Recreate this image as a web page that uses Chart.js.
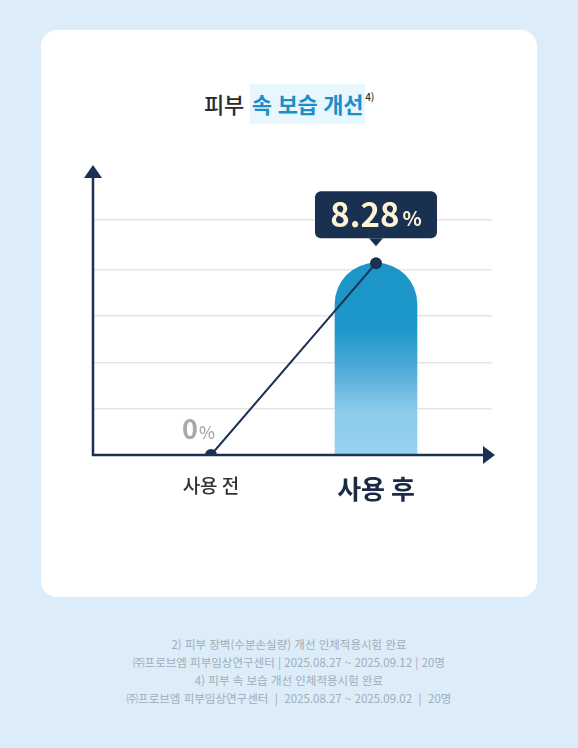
<!DOCTYPE html>
<html lang="ko">
<head>
<meta charset="utf-8">
<script src="https://cdn.jsdelivr.net/npm/chart.js@4/dist/chart.umd.min.js"></script>
<style>
  html, body { margin: 0; padding: 0; }
  body {
    width: 578px; height: 748px; background: #dcedf9; position: relative;
    font-family: "Noto Sans CJK KR", "Noto Sans", sans-serif; overflow: hidden;
  }
  .card {
    position: absolute; left: 41px; top: 30px; width: 496px; height: 567px;
    background: #fff; border-radius: 16px;
  }
  .title {
    position: absolute; left: 0; width: 578px; top: 87px; text-align: center;
    font-size: 22px; color: #2a2a2a; font-weight: 500; letter-spacing: -0.3px;
  }
  .title .hl {
    color: #1a8fc9; font-weight: 700; background: #e8f6fd; padding: 3px 2px 5px 2px;
  }
  .title sup { font-size: 10px; color: #333; font-weight: 500; vertical-align: 12px; }
  .wrap { position: absolute; left: 41px; top: 140px; width: 496px; height: 380px; }
  .notes {
    position: absolute; left: 0; width: 578px; top: 635px; text-align: center;
    font-size: 11.5px; line-height: 18px; color: #a0acb8;
  }
</style>
</head>
<body>
<div class="card"></div>
<div class="title">피부 <span class="hl">속 보습 개선</span><sup>4)</sup></div>
<div class="wrap"><canvas id="chart"></canvas></div>
<div class="notes">
  2) 피부 장벽(수분손실량) 개선 인체적용시험 완료<br>
  ㈜프로브엠 피부임상연구센터 | 2025.08.27 ~ 2025.09.12 | 20명<br>
  4) 피부 속 보습 개선 인체적용시험 완료<br>
  ㈜프로브엠 피부임상연구센터 &nbsp;| &nbsp;2025.08.27 ~ 2025.09.02 &nbsp;| &nbsp;20명
</div>
<script>
const categories = ['사용 전', '사용 후']
const values = [0, 8.28]
const gridTicks = [0, 2, 4, 6, 8, 10.15]
const valueLabels = ['0', '8.28']

const navy = '#1b3153'
const points = values.map((v, i) => ({ x: i, y: v }))

// axes with arrow heads
const axisArrows = {
  id: 'axisArrows',
  afterDatasetsDraw(chart) {
    const { ctx, chartArea: a } = chart
    ctx.save()
    ctx.strokeStyle = navy
    ctx.fillStyle = navy
    ctx.lineWidth = 2.5
    ctx.beginPath()
    ctx.moveTo(a.left, a.top)
    ctx.lineTo(a.left, a.bottom)
    ctx.lineTo(a.right - 6, a.bottom)
    ctx.stroke()
    ctx.beginPath()
    ctx.moveTo(a.left, a.top - 12)
    ctx.lineTo(a.left - 9, a.top + 1)
    ctx.lineTo(a.left + 9, a.top + 1)
    ctx.closePath()
    ctx.fill()
    ctx.beginPath()
    ctx.moveTo(a.right + 3, a.bottom)
    ctx.lineTo(a.right - 9, a.bottom - 9)
    ctx.lineTo(a.right - 9, a.bottom + 9)
    ctx.closePath()
    ctx.fill()
    ctx.restore()
  }
}

// value labels: grey "0%" and navy bubble for the after value
const valueTags = {
  id: 'valueTags',
  afterDraw(chart) {
    const { ctx } = chart
    const pts = chart.getDatasetMeta(1).data
    ctx.save()
    // before
    let p = pts[0]
    ctx.fillStyle = '#a9a9a9'
    ctx.textBaseline = 'alphabetic'
    ctx.font = '700 27px "Noto Sans CJK KR"'
    const w0 = ctx.measureText(valueLabels[0]).width
    ctx.fillText(valueLabels[0], p.x - 29, p.y - 16)
    ctx.font = '500 17px "Noto Sans CJK KR"'
    ctx.fillText('%', p.x - 29 + w0 + 1, p.y - 16)
    // after
    p = pts[1]
    const bx = p.x - 61, by = p.y - 72, bw = 122, bh = 47
    ctx.fillStyle = '#1a3051'
    ctx.beginPath()
    ctx.roundRect(bx, by, bw, bh, 6)
    ctx.fill()
    ctx.beginPath()
    ctx.moveTo(p.x - 7, by + bh)
    ctx.lineTo(p.x, by + bh + 8)
    ctx.lineTo(p.x + 7, by + bh)
    ctx.closePath()
    ctx.fill()
    ctx.fillStyle = '#fdf4d3'
    ctx.font = '700 33px "Noto Sans CJK KR"'
    const w1 = ctx.measureText(valueLabels[1]).width
    ctx.font = '700 20px "Noto Sans CJK KR"'
    const w2 = ctx.measureText('%').width
    const sx = p.x - (w1 + w2 + 3) / 2
    ctx.font = '700 33px "Noto Sans CJK KR"'
    ctx.fillText(valueLabels[1], sx, by + 36)
    ctx.font = '700 20px "Noto Sans CJK KR"'
    ctx.fillText('%', sx + w1 + 3, by + 35)
    ctx.restore()
  }
}

new Chart(document.getElementById('chart'), {
  type: 'bar',
  data: {
    datasets: [
      {
        type: 'bar',
        data: points,
        barThickness: 82,
        borderRadius: { topLeft: 41, topRight: 41, bottomLeft: 0, bottomRight: 0 },
        borderSkipped: 'bottom',
        backgroundColor: (c) => {
          const a = c.chart.chartArea
          if (!a) return '#1b96c8'
          const g = c.chart.ctx.createLinearGradient(0, a.top, 0, a.bottom)
          g.addColorStop(0, '#1a92c6')
          g.addColorStop(0.55, '#1e98ca')
          g.addColorStop(0.68, '#4aa9d8')
          g.addColorStop(0.84, '#8ccaec')
          g.addColorStop(1, '#98d3f0')
          return g
        },
        order: 2
      },
      {
        type: 'line',
        data: points,
        borderColor: navy,
        borderWidth: 2,
        pointRadius: 6,
        pointBackgroundColor: navy,
        pointBorderWidth: 0,
        order: 1
      }
    ]
  },
  options: {
    responsive: true,
    maintainAspectRatio: false,
    animation: false,
    layout: { padding: { left: 52, right: 45, top: 37, bottom: 0 } },
    plugins: { legend: { display: false }, tooltip: { enabled: false } },
    scales: {
      x: {
        type: 'linear',
        offset: false,
        min: -0.715,
        max: 1.703,
        grid: { display: false },
        border: { display: false },
        afterBuildTicks: (s) => { s.ticks = categories.map((c, i) => ({ value: i })) },
        afterFit: (s) => { s.height = 65 },
        ticks: {
          padding: 11,
          color: (c) => c.index === 1 ? '#1b2a44' : '#333',
          font: (c) => c.index === 1
            ? { family: 'Noto Sans CJK KR', size: 26, weight: '700' }
            : { family: 'Noto Sans CJK KR', size: 19, weight: '500' },
          callback: (v, i) => categories[i]
        }
      },
      y: {
        min: 0,
        max: 12,
        afterBuildTicks: (s) => { s.ticks = gridTicks.map(v => ({ value: v })) },
        afterFit: (s) => { s.width = 0 },
        ticks: { display: false },
        border: { display: false },
        grid: { color: '#e6e6e6', lineWidth: 1.5, drawTicks: false }
      }
    }
  },
  plugins: [axisArrows, valueTags]
})
</script>
</body>
</html>
